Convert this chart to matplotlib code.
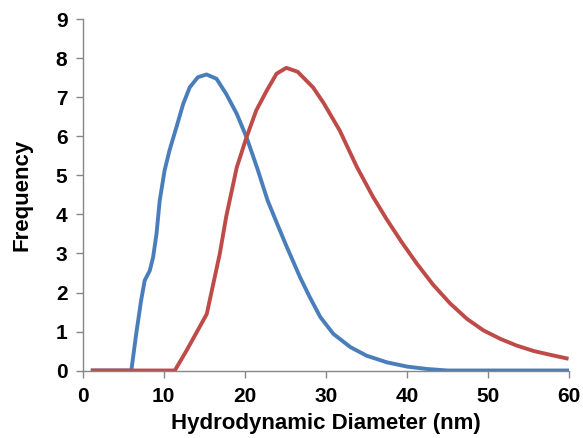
import matplotlib
matplotlib.use("Agg")
import matplotlib.pyplot as plt

plt.rcParams['font.family'] = ['Liberation Sans', 'DejaVu Sans']

blue_x = [1, 6.0, 6.6, 7.2, 7.65, 8.27, 8.68, 9.1, 9.5, 10.1, 10.7, 11.56, 12.4, 13.2,
          14.2, 15.27, 16.5, 17.7, 19.0, 20.2, 21.5, 22.8, 24.0, 25.1, 26.8, 28.0,
          29.3, 30.9, 33.0, 35.0, 37.5, 40.0, 42.4, 45, 60]
blue_y = [0, 0, 0.94, 1.79, 2.31, 2.56, 2.9, 3.5, 4.36, 5.13, 5.64, 6.24, 6.84, 7.26,
          7.52, 7.59, 7.48, 7.09, 6.58, 5.98, 5.2, 4.36, 3.75, 3.2, 2.39, 1.88,
          1.37, 0.94, 0.60, 0.38, 0.21, 0.10, 0.04, 0.0, 0]

red_x = [1, 11.36, 12.8, 14.4, 15.3, 16.1, 16.9, 17.7, 19.0, 20.2, 21.4, 22.7, 23.9,
         25.1, 26.5, 28.4, 29.7, 31.7, 33.8, 35.8, 37.5, 39.3, 41.2, 43.2,
         45.3, 47.4, 49.4, 51.5, 53.5, 55.6, 57.7, 59.9]
red_y = [0, 0, 0.51, 1.11, 1.45, 2.22, 2.99, 3.95, 5.21, 5.98, 6.67, 7.18, 7.61,
         7.76, 7.66, 7.26, 6.86, 6.15, 5.22, 4.45, 3.87, 3.3, 2.74, 2.2,
         1.72, 1.32, 1.03, 0.81, 0.64, 0.50, 0.40, 0.30]

x_ticks = [0, 10, 20, 30, 40, 50, 60]
y_ticks = [0, 1, 2, 3, 4, 5, 6, 7, 8, 9]

fig = plt.figure(figsize=(5.83, 4.38), dpi=100)
ax = fig.add_axes([0.1418, 0.1541, 0.8348, 0.8014])

ax.plot(blue_x, blue_y, color='#4a7ebb', lw=2.8, solid_joinstyle='round', solid_capstyle='butt')
ax.plot(red_x, red_y, color='#be4b48', lw=2.8, solid_joinstyle='round', solid_capstyle='butt')

ax.set_xlim(0, 60)
ax.set_ylim(0, 9)
ax.set_xticks(x_ticks)
ax.set_yticks(y_ticks)
ax.spines['top'].set_visible(False)
ax.spines['right'].set_visible(False)
for s in ['left', 'bottom']:
    ax.spines[s].set_color('#868686')
    ax.spines[s].set_linewidth(1.0)
ax.tick_params(axis='both', direction='out', length=5, width=1.0, color='#868686',
               labelsize=15)
ax.tick_params(axis='y', pad=6)
ax.tick_params(axis='x', pad=7)
for lab in ax.get_xticklabels() + ax.get_yticklabels():
    lab.set_fontweight('bold')

ax.set_xlabel('Hydrodynamic Diameter (nm)', fontsize=16, fontweight='bold', labelpad=5)
ax.set_ylabel('Frequency', fontsize=16, fontweight='bold', labelpad=17)

fig.savefig('out.png', dpi=100)
